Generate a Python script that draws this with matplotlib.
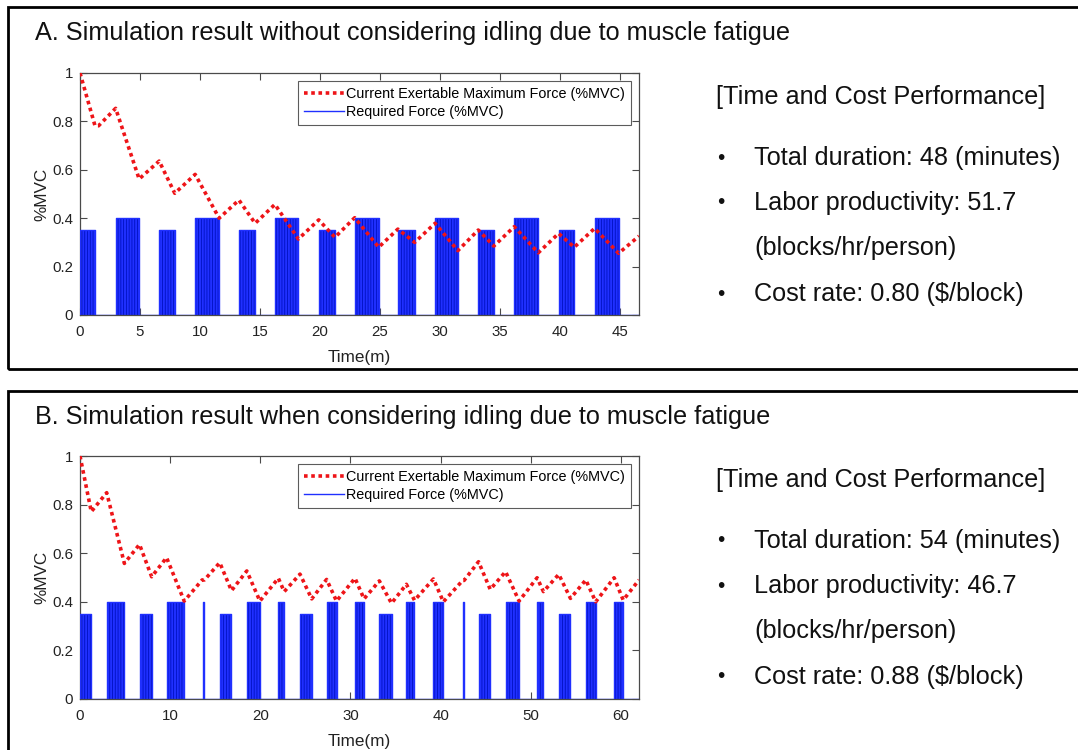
import matplotlib
matplotlib.use("Agg")
import matplotlib.pyplot as plt
from matplotlib.patches import Rectangle
from matplotlib.lines import Line2D

plt.rcParams["font.family"] = ["Liberation Sans", "DejaVu Sans"]
plt.rcParams["hatch.linewidth"] = 0.6

# ---- Panel A: no idling ----
a_start = [0, 2.97, 6.6, 9.6, 13.25, 16.25, 19.9, 22.9, 26.5, 29.6, 33.2, 36.2, 39.9, 42.9]
a_end = [1.25, 4.93, 7.9, 11.6, 14.6, 18.2, 21.25, 24.9, 27.9, 31.5, 34.5, 38.2, 41.2, 44.9]
a_level = [0.35, 0.40, 0.35, 0.40, 0.35, 0.40, 0.35, 0.40, 0.35, 0.40, 0.35, 0.40, 0.35, 0.40]

a_time = [0, 1.25, 1.55, 2.97, 4.93, 6.6, 7.9, 9.6, 11.6, 13.25, 14.6, 16.25, 18.2, 19.9,
          21.25, 22.9, 24.9, 26.5, 27.9, 29.6, 31.5, 33.2, 34.5, 36.2, 38.2, 39.9, 41.2,
          42.9, 44.9, 46.6]
a_force = [1.0, 0.782, 0.782, 0.854, 0.562, 0.636, 0.503, 0.581, 0.40, 0.475, 0.379, 0.457,
           0.314, 0.393, 0.321, 0.402, 0.28, 0.355, 0.30, 0.379, 0.266, 0.351, 0.285, 0.365,
           0.257, 0.337, 0.28, 0.358, 0.255, 0.326]

# ---- Panel B: idling considered ----
b_start = [0, 2.96, 6.6, 9.6, 13.68, 15.5, 18.5, 22.0, 24.4, 27.35, 30.5, 33.2, 36.2, 39.2,
           42.47, 44.2, 47.2, 50.7, 53.1, 56.1, 59.24]
b_end = [1.25, 4.92, 7.95, 11.56, 13.76, 16.8, 19.95, 22.65, 25.7, 28.45, 31.5, 34.55, 37.1,
         40.3, 42.55, 45.5, 48.7, 51.4, 54.4, 57.2, 60.25]
b_level = [0.35, 0.40, 0.35, 0.40, 0.40, 0.35, 0.40, 0.40, 0.35, 0.40, 0.40, 0.35, 0.40, 0.40,
           0.40, 0.35, 0.40, 0.40, 0.35, 0.40, 0.40]

b_time = [0, 1.25, 2.96, 4.92, 6.6, 7.95, 9.6, 11.56, 13.55, 13.8, 15.5, 16.8, 18.5, 19.95,
          22.0, 22.65, 24.4, 25.7, 27.35, 28.45, 30.5, 31.5, 33.2, 34.55, 36.2, 37.1, 39.2,
          40.3, 42.45, 42.6, 44.2, 45.5, 47.2, 48.7, 50.7, 51.4, 53.1, 54.4, 56.1, 57.2,
          59.24, 60.25, 62.0]
b_force = [1.0, 0.771, 0.849, 0.558, 0.636, 0.503, 0.582, 0.403, 0.49, 0.49, 0.561, 0.446,
           0.527, 0.403, 0.497, 0.442, 0.514, 0.412, 0.492, 0.403, 0.497, 0.412, 0.486, 0.394,
           0.472, 0.406, 0.494, 0.40, 0.488, 0.488, 0.565, 0.451, 0.524, 0.403, 0.499, 0.442,
           0.513, 0.414, 0.49, 0.40, 0.499, 0.407, 0.49]

a_xticks = [0, 5, 10, 15, 20, 25, 30, 35, 40, 45]
b_xticks = [0, 10, 20, 30, 40, 50, 60]
y_ticks = [0, 0.2, 0.4, 0.6, 0.8, 1.0]
y_ticklabels = ["0", "0.2", "0.4", "0.6", "0.8", "1"]

titles = ["A. Simulation result without considering idling due to muscle fatigue",
          "B. Simulation result when considering idling due to muscle fatigue"]
summary_a = ["Total duration: 48 (minutes)", "Labor productivity: 51.7",
             "(blocks/hr/person)", "Cost rate: 0.80 ($/block)"]
summary_b = ["Total duration: 54 (minutes)", "Labor productivity: 46.7",
             "(blocks/hr/person)", "Cost rate: 0.88 ($/block)"]
legend_labels = ["Current Exertable Maximum Force (%MVC)", "Required Force (%MVC)"]

W, H = 1078, 750
RED = "#ee1418"
BLUE = "#2030ff"
BLUE_DARK = "#0010c0"
SPINE = "#4a4a4a"
TEXT = "#111111"

fig = plt.figure(figsize=(W / 100, H / 100), dpi=100)


def fx(px):
    return px / W


def fy(py):
    return 1 - py / H


def draw_panel(ax, starts, ends, levels, t, f, xticks, xmax):
    # required force: a step trace that sits on zero between work blocks
    xs, ys = [0.0], [0.0]
    for s, e, h in zip(starts, ends, levels):
        xs += [s, s, e, e]
        ys += [0, h, h, 0]
        ax.fill_between([s, e], [h, h], 0, facecolor=BLUE, edgecolor=BLUE_DARK,
                        hatch="||||||", linewidth=0, zorder=2)
    xs.append(xmax)
    ys.append(0)
    ax.plot(xs, ys, color=BLUE, lw=1.0, zorder=3)
    ax.plot(t, f, color=RED, lw=2.6, linestyle=(0, (1, 1.0)), zorder=4)

    ax.set_xlim(0, xmax)
    ax.set_ylim(0, 1)
    ax.set_xticks(xticks)
    ax.set_xticklabels([str(v) for v in xticks])
    ax.set_yticks(y_ticks)
    ax.set_yticklabels(y_ticklabels)
    ax.tick_params(direction="in", length=5, width=0.8, colors=SPINE, labelcolor="#222222",
                   labelsize=10.8, top=True, right=True)
    ax.tick_params(axis="x", pad=7)
    ax.tick_params(axis="y", pad=5)
    for sp in ax.spines.values():
        sp.set_color(SPINE)
        sp.set_linewidth(0.9)
    ax.set_xlabel("Time(m)", fontsize=12.3, color="#222222", labelpad=8)
    ax.set_ylabel("%MVC", fontsize=12.3, color="#222222", labelpad=2)

    handles = [Line2D([], [], color=RED, lw=2.6, linestyle=(0, (1, 1.0))),
               Line2D([], [], color=BLUE, lw=1.0)]
    leg = ax.legend(handles, legend_labels, loc="upper right", fontsize=10.4,
                    frameon=True, fancybox=False, edgecolor="#333333",
                    borderaxespad=0.55, handlelength=2.8, handletextpad=0.15,
                    labelspacing=0.3, borderpad=0.4)
    leg.get_frame().set_linewidth(0.8)


ax_a = fig.add_axes([fx(80), fy(315), fx(639) - fx(80), fy(73) - fy(315)])
draw_panel(ax_a, a_start, a_end, a_level, a_time, a_force, a_xticks, 46.6)

ax_b = fig.add_axes([fx(80), fy(699), fx(639) - fx(80), fy(456) - fy(699)])
draw_panel(ax_b, b_start, b_end, b_level, b_time, b_force, b_xticks, 62.0)

# panel frames
for top, bottom in [(7, 369), (391, 765)]:
    fig.add_artist(Rectangle((fx(8), fy(bottom)), fx(1090) - fx(8), fy(top) - fy(bottom),
                             transform=fig.transFigure, fill=False, edgecolor="black",
                             linewidth=2.0, clip_on=False))

# titles and summaries
for title, ty in zip(titles, [33, 417]):
    fig.text(fx(35), fy(ty), title, fontsize=18.2, ha="left", va="center", color=TEXT)

for lines, y0 in [(summary_a, 97), (summary_b, 480)]:
    fig.text(fx(716), fy(y0), "[Time and Cost Performance]", fontsize=18.2,
             ha="left", va="center", color=TEXT)
    offsets = [61, 106, 151, 197]
    for i, (line, dy) in enumerate(zip(lines, offsets)):
        if i != 2:
            fig.text(fx(721), fy(y0 + dy), "\u2022", fontsize=15, ha="center",
                     va="center", color=TEXT)
        fig.text(fx(754), fy(y0 + dy), line, fontsize=18.2, ha="left", va="center",
                 color=TEXT)

fig.savefig("out.png", dpi=100)
